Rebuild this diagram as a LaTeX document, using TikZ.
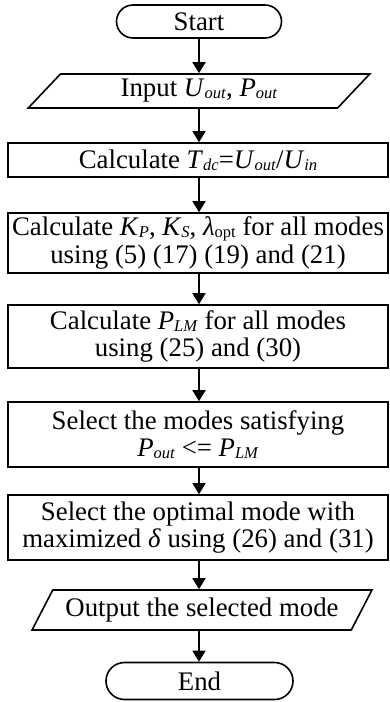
\documentclass[tikz,border=0pt]{standalone}
\usepackage{fontspec}
\setmainfont{Liberation Serif}
\usepackage{tikz}
\usetikzlibrary{
  arrows.meta, positioning, shapes.geometric, shapes.misc,
}
\newcommand{\flowfont}{\fontsize{26.8}{27.5}\selectfont}
\newcommand{\subfont}{\fontsize{16.5}{16.5}\selectfont}
\newcommand{\vsub}[2]{\textit{#1}\raisebox{-2pt}{\subfont\textit{#2}}}
\tikzset{
  termnode/.style={rounded rectangle,draw,line width=1.6pt,inner sep=0pt,font=\flowfont},
  ionode/.style={trapezium,trapezium left angle=52,trapezium right angle=128,
    trapezium stretches=true,draw,line width=1.6pt,inner sep=0pt,font=\flowfont},
  procnode/.style={rectangle,draw,line width=1.6pt,minimum width=380pt,inner sep=0pt,
    align=center,font=\flowfont},
  flowarrow/.style={-{Triangle[length=11pt,width=13pt]},line width=1.6pt},
}

\begin{document}
\begin{tikzpicture}[x=1pt,y=-1pt]
  \useasboundingbox (0,0) rectangle (389,702);
  % Terminals, inputs and steps
  \node[termnode,minimum width=165pt,minimum height=33pt] (start) at (199,21.5) {Start};
  \node[ionode,minimum width=342pt,minimum height=34pt] (input) at (199,91) {Input \vsub{U}{out}, \vsub{P}{out}};
  \node[procnode,minimum height=34pt] (tdc) at (198,160) {Calculate \vsub{T}{dc}=\vsub{U}{out}/\vsub{U}{in}};
  \node[procnode,minimum height=60pt] (kps) at (198,243)
    {Calculate \vsub{K}{P}, \vsub{K}{S}, \textit{λ}\raisebox{-2pt}{\subfont opt} for all modes\\using (5) (17) (19) and (21)};
  \node[procnode,minimum height=63pt] (plm) at (198,336.5)
    {Calculate \vsub{P}{LM} for all modes\\using (25) and (30)};
  \node[procnode,minimum height=65pt] (sel) at (198,434.5)
    {Select the modes satisfying\\\vsub{P}{out} <= \vsub{P}{LM}};
  \node[procnode,minimum height=65pt] (opt) at (198,527.5)
    {Select the optimal mode with\\maximized \textit{δ} using (26) and (31)};
  \node[ionode,minimum width=341pt,minimum height=40pt] (output) at (202,610) {Output the selected mode};
  \node[termnode,minimum width=187pt,minimum height=37pt] (end) at (199.5,681) {End};
  % Flow
  \foreach \a/\b in {start/input,input/tdc,tdc/kps,kps/plm,plm/sel,sel/opt,opt/output,output/end}
    \draw[flowarrow] (\a.south -| start) -- (\b.north -| start);
\end{tikzpicture}
\end{document}
